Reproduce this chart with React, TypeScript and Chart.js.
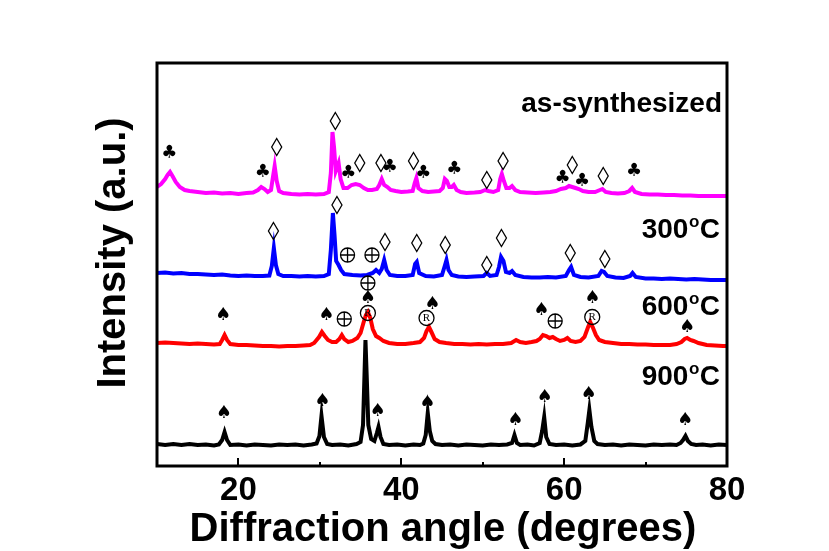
import React, { useEffect, useRef } from 'react';
import { Chart, registerables } from 'chart.js';

Chart.register(...registerables);

// ---- Data (angle in degrees 2θ, intensity in a.u. above each pattern's own baseline) ----
const xTicks = [20, 40, 60, 80];

const pattern900: [number, number][] = [
  [10, 1], [11, 0], [12, 1], [13, 0], [14, 1], [15, 0], [16, 0.5], [17, -0.5], [17.6, 0.5],
  [18.0, 5], [18.3, 13], [18.6, 5], [19.0, 0], [20, 0.5], [21, -0.5], [22, 0.5], [23, 0], [24, -0.5],
  [25, 0.5], [26, 0], [27, 0.5], [28, -0.5], [29, 0.5], [29.6, 1.5], [29.95, 9], [30.2, 29], [30.5, 8],
  [30.9, 1], [31.5, 0], [32.5, 0.5], [33.5, -0.5], [34.5, 1], [35.0, 3], [35.3, 20], [35.48, 70],
  [35.6, 105], [35.75, 70], [35.95, 20], [36.3, 6], [36.7, 4], [37.0, 12], [37.2, 18], [37.45, 8],
  [37.8, 1], [38.5, 0], [39.5, 0.5], [40.5, -0.5], [41.5, 0.5], [42.3, 0], [42.7, 1.5], [43.0, 10],
  [43.25, 32], [43.5, 14], [43.8, 4], [44.2, 1], [45, 0], [46, 0.5], [47, -0.5], [48, 0.5], [49, 0],
  [50, -0.5], [51, 0.5], [52, 0], [53, 0.5], [53.6, 2], [53.9, 10], [54.2, 2], [54.6, 0], [55.5, 0.5],
  [56.3, -0.5], [57.0, 2], [57.3, 14], [57.55, 28], [57.8, 8], [58.2, 1], [59, 0], [60, 0.5], [61, -0.5],
  [62, 0.5], [62.6, 4], [62.9, 22], [63.1, 35], [63.35, 18], [63.7, 4], [64.1, 1], [65, 0], [66, 0.5],
  [67, -0.5], [68, 0.5], [69, 0], [70, -0.5], [71, 0.5], [72, 0], [73, 0.5], [73.8, 0], [74.3, 2],
  [74.6, 5], [74.9, 9], [75.2, 4], [75.6, 1], [76.2, 0], [77, 0.5], [78, -0.5], [79, 0.5], [80, 0],
];

const pattern600: [number, number][] = [
  [10, 0], [11, 0.5], [12, 0], [13, -0.5], [14, -1], [15, -0.5], [16, -1], [17, -1.5], [17.7, -1],
  [18.0, 3], [18.3, 8], [18.6, 3], [19.0, -1], [20, -2], [21, -2], [22, -2.5], [23, -3], [24, -3],
  [25, -3.5], [26, -3], [27, -3], [28, -2.5], [28.8, -2], [29.3, 0], [29.6, 3], [29.9, 6], [30.25, 11],
  [30.6, 7], [31.0, 3], [31.5, 1], [32.0, 1], [32.4, 4], [32.7, 8], [33.0, 4], [33.5, 1], [34.0, 2],
  [34.6, 5], [35.0, 10], [35.35, 20], [35.65, 28], [35.9, 31], [36.2, 25], [36.5, 14], [36.9, 7],
  [37.3, 5], [37.8, 2], [38.5, 0], [39.5, -1], [40.5, -1], [41.5, 0], [42.3, 1], [42.8, 5], [43.1, 12],
  [43.4, 16], [43.7, 11], [44.1, 4], [44.7, 1], [45.5, 0], [46.5, -1], [47.5, -1], [48.5, -1.5],
  [49.5, -1], [50.5, -1.5], [51.5, -1], [52.5, -1], [53.5, 0], [54.1, 3], [54.6, 1], [55.3, 0],
  [56.0, 1], [56.6, 2], [57.0, 4], [57.4, 8], [57.8, 7], [58.2, 5], [58.6, 6], [59.0, 4], [59.5, 2],
  [60.0, 3], [60.4, 5], [60.8, 2], [61.4, 1], [62.0, 2], [62.5, 6], [62.9, 15], [63.2, 21], [63.5, 16],
  [63.9, 8], [64.3, 3], [65, 1], [66, 0], [67, -1], [68, -1], [69, -1.5], [70, -1.5], [71, -2], [72, -2],
  [73, -2], [73.8, -1], [74.4, 1], [74.8, 4], [75.1, 5], [75.5, 3], [75.9, 2], [76.5, 0], [77.5, -2],
  [78.5, -2.5], [79.5, -3], [80, -3],
];

const pattern300: [number, number][] = [
  [10, 2], [11, 2.5], [12, 1.5], [13, 2], [14, 1], [15, 1], [16, 0.5], [17, 0], [18, 0.5], [19, -0.5],
  [20, -1], [21, -0.5], [22, -1], [23, -1], [23.8, -0.5], [24.1, 9], [24.35, 27], [24.6, 10], [24.9, 1],
  [25.5, -1], [26.5, -1], [27.5, -1.5], [28.5, -1], [29.5, -1.5], [30.5, -1], [31.1, 1], [31.35, 25],
  [31.6, 62], [31.8, 40], [32.0, 14], [32.3, 10], [32.6, 5], [33.0, 1], [34, 0], [35, -0.5], [35.8, 0],
  [36.5, 2], [36.9, 5], [37.3, 2], [37.6, 6], [37.9, 15], [38.2, 5], [38.6, 0], [39.5, -1], [40.5, -1],
  [41.4, 0], [41.7, 11], [41.9, 13], [42.2, 2], [43, -1], [44, -1.5], [45.0, 0], [45.3, 8], [45.55, 15],
  [45.8, 5], [46.2, 0], [47, -1.5], [48, -2], [49, -1.5], [50.1, -1], [50.5, 2], [50.9, -1], [51.7, 0],
  [52.0, 8], [52.25, 18], [52.55, 14], [52.85, 3], [53.3, 2], [53.6, 4], [54.0, 0], [55, -2], [56, -2.5],
  [57, -2.5], [58, -2], [59, -2.5], [60.2, -1], [60.6, 5], [60.85, 8], [61.2, 0], [62, -2], [63, -2.5],
  [64.2, -1], [64.6, 4], [64.9, 3], [65.3, -1], [66.3, -2.5], [67.3, -3], [68.1, -1], [68.4, 2],
  [68.8, -2], [70, -3.5], [71, -3.5], [72, -4], [73, -3.5], [74, -4], [75, -4.5], [76, -4], [77, -4.5],
  [78, -5], [79, -5], [80, -5],
];

const patternAsSynth: [number, number][] = [
  [10, 6], [10.5, 9], [11.0, 14], [11.3, 18], [11.6, 21], [11.9, 17], [12.3, 11], [12.8, 6], [13.4, 3],
  [14, 2], [15, 1], [16, 0], [17, 0.5], [18, -0.5], [19, 0], [20, -1], [21, 0], [21.8, 0.5], [22.4, 3],
  [22.8, 6], [23.2, 4], [23.6, 1], [24.0, 3], [24.2, 14], [24.45, 27], [24.7, 12], [25.0, 2], [25.5, 0],
  [26.5, -1], [27.5, -1.5], [28.5, -1], [29.5, -1.5], [30.5, -1], [31.1, 1], [31.35, 20], [31.55, 61],
  [31.75, 45], [31.95, 22], [32.3, 30], [32.55, 14], [32.9, 5], [33.4, 5], [33.9, 8], [34.4, 9],
  [34.9, 8], [35.4, 5], [35.9, 3], [36.4, 3], [37.0, 4], [37.3, 8], [37.6, 14], [37.9, 8], [38.3, 6],
  [38.7, 3], [39.3, 2], [40, 1], [40.8, 1.5], [41.4, 2], [41.65, 10], [41.85, 15], [42.1, 5], [42.6, 2],
  [43.3, 1], [44, 1.5], [44.7, 2], [45.1, 5], [45.35, 14], [45.6, 12], [45.9, 6], [46.2, 6], [46.45, 8],
  [46.8, 3], [47.3, 1], [48, 0], [49, 0.5], [49.7, 1], [50.3, 3], [50.7, 2], [51.3, 1], [51.9, 3],
  [52.15, 14], [52.35, 19], [52.6, 12], [52.9, 5], [53.3, 5], [53.6, 7], [54.0, 3], [54.6, 1],
  [55.5, 0.5], [56.5, 0], [57.5, 0.5], [58.3, 1], [59.0, 2], [59.6, 4], [60.2, 5], [60.6, 7], [61.0, 6],
  [61.4, 5], [61.8, 4], [62.3, 2], [63.0, 1], [63.8, 1], [64.4, 3], [64.7, 4], [65.1, 1], [65.8, 0],
  [66.6, -0.5], [67.4, 0], [68.0, 2], [68.35, 5], [68.7, 1], [69.5, -1], [70.5, -1.5], [71.5, -1.5],
  [72.5, -2], [73.5, -2], [74.5, -2.5], [75.5, -2.5], [76.5, -3], [77.5, -3], [78.5, -3], [79.5, -3],
  [80, -3],
];

// vertical offsets of the stacked patterns (a.u.)
const stackOffsets = [21, 123, 191, 273];
const seriesNames = ['900', '600', '300', 'as-synthesized'];

// phase markers: [angle, absolute intensity (a.u.), symbol]
const markers900: [number, number, string][] = [
  [18.2, 53, '♠'], [30.3, 65, '♠'], [37.1, 55, '♠'], [43.2, 63, '♠'],
  [54.0, 46, '♠'], [57.6, 69, '♠'], [63.0, 72, '♠'], [74.85, 46, '♠'],
];
const markers600: [number, number, string][] = [
  [18.1, 151, '♠'], [30.8, 151, '♠'], [33.0, 147, '⊕'], [35.9, 183, '⊕'], [35.9, 168, '♠'],
  [35.9, 153, 'R'], [43.8, 162, '♠'], [43.1, 148, 'R'], [57.2, 156, '♠'], [58.9, 145, '⊕'],
  [63.45, 168, '♠'], [63.45, 149, 'R'], [75.1, 139, '♠'],
];
const markers300: [number, number, string][] = [
  [24.3, 235, '◊'], [32.1, 261, '◊'], [33.4, 211, '⊕'], [36.4, 211, '⊕'], [38.0, 224, '◊'],
  [41.9, 223, '◊'], [45.4, 221, '◊'], [50.5, 201, '◊'], [52.3, 228, '◊'], [60.75, 213, '◊'],
  [65.0, 207, '◊'],
];
const markersAsSynth: [number, number, string][] = [
  [11.5, 313, '♣'], [23.0, 294, '♣'], [24.7, 319, '◊'], [31.9, 345, '◊'], [33.5, 293, '♣'],
  [34.9, 303, '◊'], [37.5, 303, '◊'], [38.6, 299, '♣'], [41.5, 305, '◊'], [42.7, 293, '♣'],
  [46.5, 297, '♣'], [50.5, 286, '◊'], [52.5, 305, '◊'], [59.8, 288, '♣'], [61.0, 301, '◊'],
  [62.2, 285, '♣'], [64.8, 290, '◊'], [68.6, 295, '♣'],
];

// ---- Styles ----
const COLORS = ['#000000', '#ff0000', '#0000ff', '#ff00ff'];
const FONT = "'Liberation Sans', Arial, sans-serif";
const SYM_FONT = "'DejaVu Sans', sans-serif";

const patterns = [pattern900, pattern600, pattern300, patternAsSynth];
const allMarkers = [markers900, markers600, markers300, markersAsSynth];
// label baselines (a.u.) for each pattern's name
const labelBaselines = [81, 151, 228, 354];

function drawSymbol(ctx: CanvasRenderingContext2D, x: number, y: number, s: string) {
  ctx.save();
  ctx.strokeStyle = '#000';
  ctx.fillStyle = '#000';
  ctx.lineWidth = 1.3;
  if (s === '◊') {
    ctx.beginPath();
    ctx.moveTo(x, y - 8.5);
    ctx.lineTo(x + 5, y);
    ctx.lineTo(x, y + 8.5);
    ctx.lineTo(x - 5, y);
    ctx.closePath();
    ctx.stroke();
  } else if (s === '⊕') {
    ctx.beginPath();
    ctx.arc(x, y, 7, 0, Math.PI * 2);
    ctx.moveTo(x - 7, y);
    ctx.lineTo(x + 7, y);
    ctx.moveTo(x, y - 7);
    ctx.lineTo(x, y + 7);
    ctx.stroke();
  } else if (s === 'R') {
    ctx.beginPath();
    ctx.arc(x, y, 7.5, 0, Math.PI * 2);
    ctx.stroke();
    ctx.font = "11px 'Liberation Serif', serif";
    ctx.textAlign = 'center';
    ctx.textBaseline = 'middle';
    ctx.fillText('R', x, y + 0.5);
  } else {
    ctx.font = `18px ${SYM_FONT}`;
    ctx.textAlign = 'center';
    ctx.textBaseline = 'middle';
    ctx.fillText(s, x, y);
  }
  ctx.restore();
}

const overlayPlugin = {
  id: 'xrdOverlay',
  afterDraw(chart: any) {
    const { ctx, chartArea: ca, scales } = chart;
    const xs = scales.x;
    const ys = scales.y;
    ctx.save();
    // frame
    ctx.strokeStyle = '#000';
    ctx.lineWidth = 3;
    ctx.strokeRect(ca.left, ca.top, ca.right - ca.left, ca.bottom - ca.top);
    // inside ticks
    ctx.lineWidth = 2;
    for (let v = 20; v < 80; v += 10) {
      const px = Math.round(xs.getPixelForValue(v));
      const len = v % 20 === 0 ? 8 : 4;
      ctx.beginPath();
      ctx.moveTo(px, ca.bottom);
      ctx.lineTo(px, ca.bottom - len);
      ctx.stroke();
    }
    // markers
    allMarkers.forEach((list) => {
      list.forEach(([a, v, s]) => {
        drawSymbol(ctx, xs.getPixelForValue(a), ys.getPixelForValue(v), s);
      });
    });
    // series labels
    ctx.fillStyle = '#000';
    ctx.textBaseline = 'alphabetic';
    ctx.textAlign = 'left';
    const right = 720;
    seriesNames.forEach((name, i) => {
      const by = ys.getPixelForValue(labelBaselines[i]);
      ctx.font = `bold 28px ${FONT}`;
      if (name === 'as-synthesized') {
        const w = ctx.measureText(name).width;
        ctx.fillText(name, right + 2 - w, by);
      } else {
        const w1 = ctx.measureText(name).width;
        const w3 = ctx.measureText('C').width;
        ctx.font = `bold 17px ${FONT}`;
        const w2 = ctx.measureText('o').width;
        const total = w1 + w2 + 1 + w3;
        let x0 = right - total;
        ctx.font = `bold 28px ${FONT}`;
        ctx.fillText(name, x0, by);
        x0 += w1 + 0.5;
        ctx.font = `bold 17px ${FONT}`;
        ctx.fillText('o', x0, by - 11);
        x0 += w2 + 0.5;
        ctx.font = `bold 28px ${FONT}`;
        ctx.fillText('C', x0, by);
      }
    });
    // axis titles
    ctx.font = `bold 40px ${FONT}`;
    ctx.textAlign = 'center';
    ctx.fillText('Diffraction angle (degrees)', (ca.left + ca.right) / 2 + 1, 541);
    ctx.translate(125, 253);
    ctx.rotate(-Math.PI / 2);
    ctx.fillText('Intensity (a.u.)', 0, 0);
    ctx.restore();
  },
};

export default function App() {
  const canvasRef = useRef<HTMLCanvasElement | null>(null);

  useEffect(() => {
    const canvas = canvasRef.current;
    if (!canvas) return;
    const datasets = patterns.map((p, i) => ({
      label: seriesNames[i],
      data: p.map(([a, c]) => ({ x: a, y: c + stackOffsets[i] })),
      borderColor: COLORS[i],
      borderWidth: 4,
      pointRadius: 0,
      tension: 0,
      fill: false,
    }));
    const chart = new Chart(canvas, {
      type: 'line',
      data: { datasets },
      options: {
        animation: false,
        responsive: false,
        devicePixelRatio: 1,
        layout: { padding: { left: 157, right: 102, top: 63, bottom: 0 } },
        plugins: { legend: { display: false }, tooltip: { enabled: false } },
        scales: {
          x: {
            type: 'linear',
            min: 10,
            max: 80,
            grid: { display: false, drawTicks: false },
            border: { display: false },
            afterFit: (s: any) => { s.height = 85; },
            ticks: {
              stepSize: 10,
              autoSkip: false,
              maxRotation: 0,
              padding: 5,
              color: '#000',
              font: { family: FONT, size: 33, weight: 'bold' },
              callback: (v: any) => (xTicks.includes(Number(v)) ? String(v) : ''),
            },
          },
          y: { type: 'linear', display: false, min: 0, max: 403 },
        },
      },
      plugins: [overlayPlugin],
    } as any);
    return () => chart.destroy();
  }, []);

  return (
    <div style={{ position: 'absolute', left: 0, top: 0, width: 829, height: 551, background: '#fff' }}>
      <canvas ref={canvasRef} width={829} height={551} style={{ display: 'block' }} />
    </div>
  );
}
